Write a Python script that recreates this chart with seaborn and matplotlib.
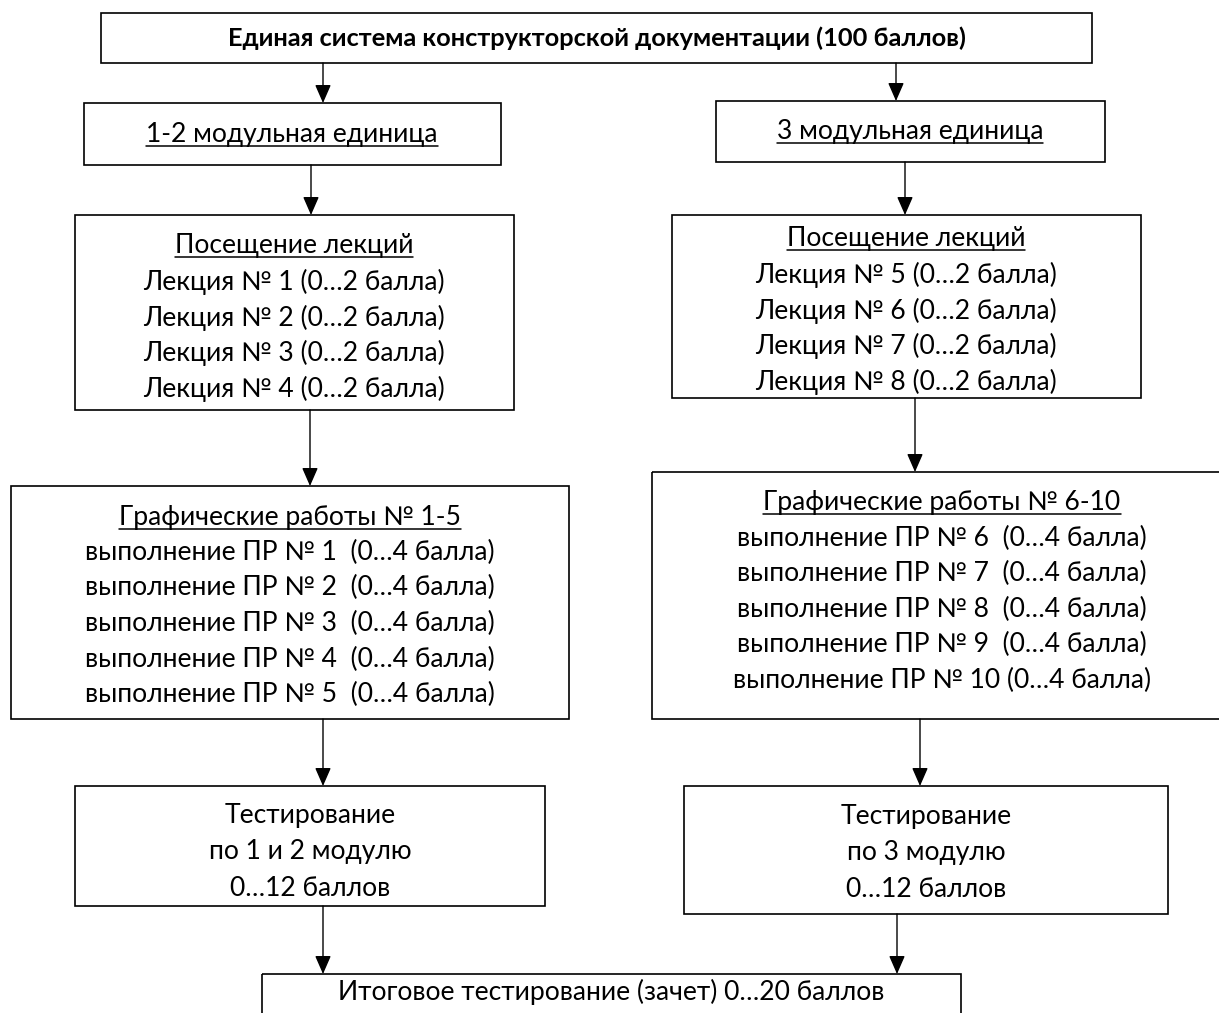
import matplotlib
matplotlib.use("Agg")
import matplotlib.pyplot as plt
from matplotlib.patches import Rectangle
import seaborn as sns

# ---------------- data (texts) ----------------
title = "Единая система конструкторской документации (100 баллов)"
modules = ["1-2 модульная единица", "3 модульная единица"]
lect_header = "Посещение лекций"
lectures_left = [1, 2, 3, 4]
lectures_right = [5, 6, 7, 8]
lect_points = "0…2 балла"
works_headers = ["Графические работы № 1-5", "Графические работы № 6-10"]
works_left = [1, 2, 3, 4, 5]
works_right = [6, 7, 8, 9, 10]
work_points = "0…4 балла"
test_left = ["Тестирование", "по 1 и 2 модулю", "0…12 баллов"]
test_right = ["Тестирование", "по 3 модулю", "0…12 баллов"]
final_text = "Итоговое тестирование (зачет) 0…20 баллов"

# ---------------- style ----------------
sns.set_theme(style="white")
plt.rcParams["font.family"] = ["Lato", "Noto Sans", "DejaVu Sans"]
W, H = 1219, 1013

fig = plt.figure(figsize=(W / 100, H / 100), dpi=100)
ax = fig.add_axes([0, 0, 1, 1])
ax.set_xlim(0, W)
ax.set_ylim(H, 0)
ax.axis("off")

renderer = fig.canvas.get_renderer()

def calibrate(sample, target_px, base=16, **kw):
    t = ax.text(0, 0, sample, fontsize=base, **kw)
    w = t.get_window_extent(renderer=renderer).width
    t.remove()
    return base * target_px / w

FS = calibrate(f"Лекция № 1 ({lect_points})", 303)
FS_T = calibrate(title, 739, fontweight="bold")

def box(x0, y0, x1, y1):
    ax.add_patch(Rectangle((x0, y0), x1 - x0, y1 - y0, fill=False,
                           edgecolor="black", lw=1.2, zorder=2))

def arrow(x, y0, y1):
    ax.annotate("", xy=(x, y1), xytext=(x, y0),
                arrowprops=dict(arrowstyle="-|>,head_length=0.8,head_width=0.35",
                                color="black", lw=1.0, shrinkA=0, shrinkB=0,
                                mutation_scale=14), zorder=3)

underlined = []
def text(x, y, s, underline=False, **kw):
    t = ax.text(x, y, s, ha="center", va="center", fontsize=kw.pop("fontsize", FS),
                color="black", **kw)
    if underline:
        underlined.append(t)
    return t

# top box
box(101, 13, 1092, 63)
text(597, 38, title, fontsize=FS_T, fontweight="bold")
arrow(323, 63, 103)
arrow(896, 63, 101)

# module boxes
box(84, 103, 501, 165)
text(292, 134, modules[0], underline=True)
box(716, 101, 1105, 162)
text(910, 131, modules[1], underline=True)
arrow(311, 165, 215)
arrow(905, 162, 215)

# lecture boxes
box(75, 215, 514, 410)
text(294, 245, lect_header, underline=True)
for i, n in enumerate(lectures_left):
    text(294, 282 + i * 35.5, f"Лекция № {n} ({lect_points})")
box(672, 215, 1141, 398)
text(906, 238, lect_header, underline=True)
for i, n in enumerate(lectures_right):
    text(906, 275 + i * 35.5, f"Лекция № {n} ({lect_points})")
arrow(310, 410, 486)
arrow(915, 398, 472)

# graphics works boxes
box(11, 486, 569, 719)
text(290, 517, works_headers[0], underline=True)
for i, n in enumerate(works_left):
    sep = "  " if n < 10 else " "
    text(290, 552 + i * 35.7, f"выполнение ПР № {n}{sep}({work_points})")
box(652, 472, 1232, 719)
text(942, 502, works_headers[1], underline=True)
for i, n in enumerate(works_right):
    sep = "  " if n < 10 else " "
    text(942, 538 + i * 35.5, f"выполнение ПР № {n}{sep}({work_points})")
arrow(323, 719, 786)
arrow(920, 719, 786)

# test boxes
box(75, 786, 545, 906)
for i, s in enumerate(test_left):
    text(310, 815 + i * 36.5, s)
box(684, 786, 1168, 914)
for i, s in enumerate(test_right):
    text(926, 816 + i * 36.5, s)
arrow(323, 906, 974)
arrow(897, 914, 974)

# final box
box(262, 974, 961, 1040)
text(611, 992, final_text)

# underlines
fig.canvas.draw()
inv = ax.transData.inverted()
for t in underlined:
    bb = t.get_window_extent()
    (xa, ya), (xb, yb) = inv.transform([(bb.x0, bb.y0), (bb.x1, bb.y1)])
    ax.plot([xa, xb], [ya - 1, ya - 1], color="black", lw=1.1)

fig.savefig("out.png", dpi=100, facecolor="white")
